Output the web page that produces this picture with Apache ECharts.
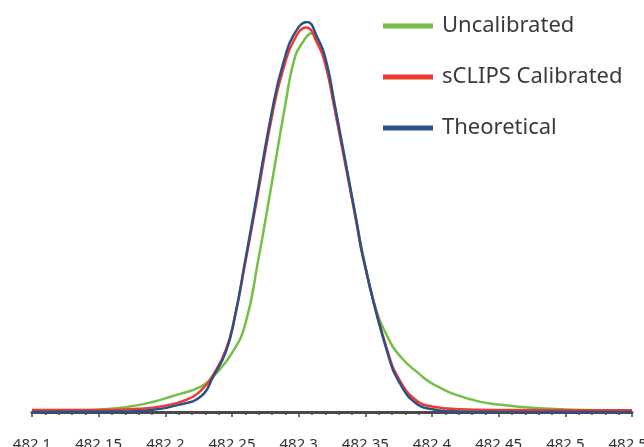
<!DOCTYPE html>
<html>
<head>
<meta charset="utf-8">
<script src="https://cdn.jsdelivr.net/npm/echarts@6/dist/echarts.min.js"></script>
<style>
    html, body { margin: 0; padding: 0; background: #fff; }
    #chart { width: 644px; height: 447px; }
</style>
</head>
<body>
<div id="chart"></div>
<script>
// values: [m/z, relative intensity]
const uncalibrated = [
    [482.10, 0], [482.13, 0.2], [482.15, 0.6], [482.17, 1.2], [482.189, 2.4],
    [482.205, 4], [482.2268, 6.5], [482.2358, 9], [482.2508, 15.5], [482.2605, 23.2],
    [482.2695, 38.6], [482.2765, 52], [482.2905, 79.8], [482.2965, 90.1], [482.3025, 94.5],
    [482.31, 97.1], [482.316, 94], [482.3205, 89], [482.3265, 79], [482.3428, 50],
    [482.349, 39], [482.3565, 28], [482.3663, 19.5], [482.3768, 14], [482.3895, 10],
    [482.4015, 7.0], [482.427, 3.4], [482.4518, 1.8], [482.489, 0.8], [482.52, 0.4],
    [482.55, 0.3]
];
const sclipsCalibrated = [
    [482.10, 0.5], [482.15, 0.5], [482.18, 0.8], [482.20, 1.6], [482.215, 3],
    [482.2268, 5.5], [482.2358, 9.5], [482.2455, 16], [482.2525, 25], [482.2598, 38],
    [482.2658, 49], [482.2815, 78.5], [482.289, 88.5], [482.296, 95], [482.3055, 98.6],
    [482.314, 94.5], [482.3205, 88.5], [482.3265, 78.5], [482.3428, 49.5], [482.349, 38.5],
    [482.3663, 16], [482.3768, 7.5], [482.3895, 2.6], [482.40, 1.4], [482.42, 0.7],
    [482.45, 0.5], [482.55, 0.4]
];
const theoretical = [
    [482.10, 0], [482.17, 0.1], [482.19, 0.5], [482.21, 1.8], [482.2268, 4],
    [482.2358, 9], [482.2455, 15.5], [482.2525, 25], [482.2598, 38.6], [482.2658, 50],
    [482.2815, 79.8], [482.289, 90.1], [482.296, 96.5], [482.3063, 100], [482.314, 96],
    [482.3205, 90.1], [482.3265, 79.8], [482.3428, 50], [482.349, 38.6], [482.3663, 15.5],
    [482.3768, 6.8], [482.3895, 1.8], [482.40, 0.7], [482.41, 0.2], [482.43, 0], [482.55, 0]
];
const seriesNames = ['Uncalibrated', 'sCLIPS Calibrated', 'Theoretical'];
const seriesColors = ['#72c045', '#ef3b2d', '#2d5089'];

const chart = echarts.init(document.getElementById('chart'));

function lineSeries(name, data, color) {
    return {
        type: 'line',
        name: name,
        data: data,
        smooth: 0.5,
        showSymbol: false,
        symbol: 'none',
        lineStyle: { color: color, width: 2.5 },
        itemStyle: { color: color }
    };
}

chart.setOption({
    animation: false,
    backgroundColor: '#fff',
    grid: { left: 32, right: 12, top: 22, bottom: 32, outerBoundsMode: 'none', containLabel: false },
    legend: {
        orient: 'vertical',
        left: 378,
        top: 10,
        itemWidth: 50,
        itemHeight: 5,
        itemGap: 29,
        icon: 'rect',
        textStyle: {
            fontFamily: 'Noto Sans',
            fontSize: 22,
            color: '#3a3a3a',
            padding: [0, 0, 0, 4]
        },
        data: seriesNames
    },
    xAxis: {
        type: 'value',
        min: 482.1,
        max: 482.55,
        interval: 0.05,
        axisLine: { lineStyle: { color: '#4a4a4a', width: 3 } },
        axisTick: { show: true, length: 5, lineStyle: { color: '#4a4a4a', width: 1.5 } },
        minorTick: { show: true, splitNumber: 5, length: 3, lineStyle: { color: '#4a4a4a', width: 1.5 } },
        splitLine: { show: false },
        axisLabel: {
            margin: 22,
            fontFamily: 'Noto Sans',
            fontSize: 15,
            color: '#333',
            showMaxLabel: true,
            formatter: v => String(Math.round(v * 100) / 100)
        }
    },
    yAxis: {
        type: 'value',
        min: -0.8,
        max: 100,
        show: false,
        splitLine: { show: false }
    },
    series: [
        lineSeries(seriesNames[0], uncalibrated, seriesColors[0]),
        lineSeries(seriesNames[1], sclipsCalibrated, seriesColors[1]),
        lineSeries(seriesNames[2], theoretical, seriesColors[2])
    ]
});
</script>
</body>
</html>
